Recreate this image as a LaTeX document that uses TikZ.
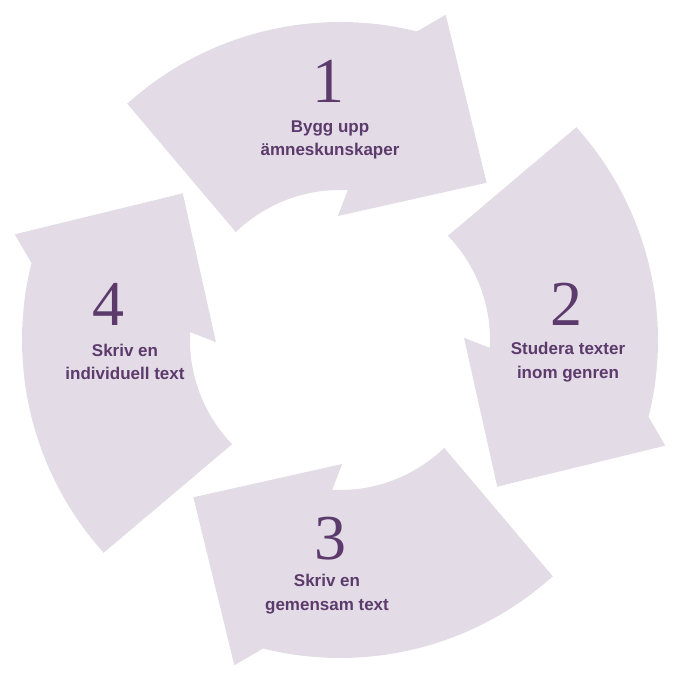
\documentclass[tikz,border=0pt]{standalone}
\usepackage{fontspec}
\setmainfont{Liberation Sans}
\newfontfamily\numfont{Liberation Serif}
\definecolor{arrowfill}{HTML}{E3DCE6}
\definecolor{txt}{HTML}{5C3A6C}
\begin{document}
\begin{tikzpicture}[x=1pt,y=1pt,
  arr/.style={fill=arrowfill,draw=none},
  num/.style={text=txt,inner sep=0pt,font=\numfont\fontsize{64}{64}\selectfont},
  lab/.style={text=txt,inner sep=0pt,font=\bfseries\fontsize{17}{23.5}\selectfont,align=center}]
\useasboundingbox (0,0) rectangle (679,679);
\coordinate (c) at (340,339);
\foreach \k in {0,1,2,3}{
  \begin{scope}[shift={(c)},rotate=-90*\k]
  \fill[arr] (132:318) arc[start angle=132,end angle=76,radius=318]
    -- (72:342) -- (47:215) -- (91:124) -- (87:150)
    arc[start angle=87,end angle=134,radius=150] -- cycle;
  \end{scope}
}
\node[num] (n1) at (328,598) {1};
\node[lab] (l1) at (330,539) {Bygg upp\\ämneskunskaper};
\node[num] (n2) at (566,375) {2};
\node[lab] (l2) at (568,317) {Studera texter\\inom genren};
\node[num] (n3) at (330,140) {3};
\node[lab] (l3) at (327,85) {Skriv en\\gemensam text};
\node[num] (n4) at (108,375) {4};
\node[lab] (l4) at (125,317) {Skriv en\\individuell text};
\end{tikzpicture}
\end{document}
